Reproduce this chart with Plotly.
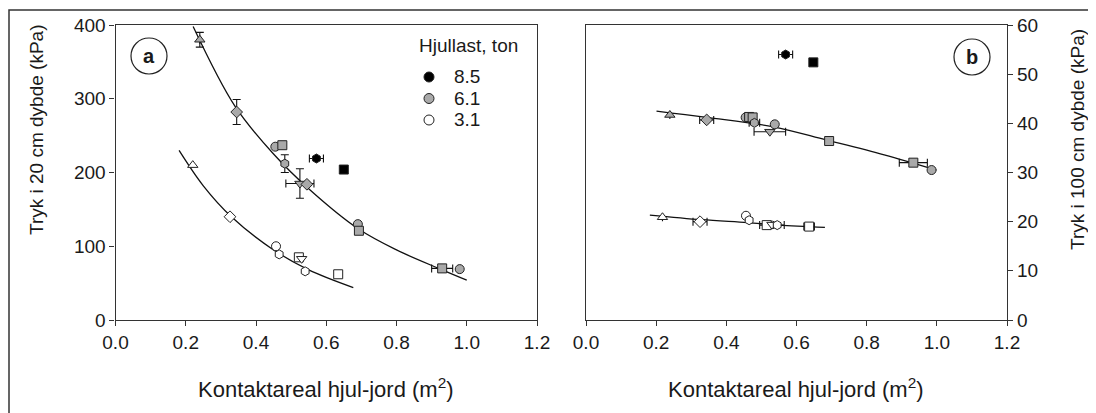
import plotly.graph_objects as go

W, H = 1096, 413
FONT = "Liberation Sans, Arial, sans-serif"

# ---------------- data: panel a (20 cm depth) ----------------
a_gray_x = [0.24, 0.345, 0.455, 0.475, 0.482, 0.525, 0.545, 0.69, 0.693, 0.93, 0.98]
a_gray_y = [380, 282, 235, 237, 212, 185, 184, 130, 121, 70, 69]
a_gray_sym = ["triangle-up", "diamond", "circle", "square", "hexagon", "triangle-down",
              "diamond", "circle", "square", "square", "circle"]
a_gray_ey = [10, 17, 0, 0, 12, 20, 0, 0, 0, 0, 0]
a_gray_ex = [0, 0, 0, 0, 0, 0.04, 0, 0, 0, 0.03, 0]

a_black_x = [0.572, 0.65]
a_black_y = [219, 204]
a_black_sym = ["hexagon", "square"]
a_black_ex = [0.02, 0]

a_white_x = [0.22, 0.326, 0.457, 0.466, 0.522, 0.53, 0.54, 0.634]
a_white_y = [210, 140, 100, 89, 85, 83, 66, 62]
a_white_sym = ["triangle-up", "diamond", "circle", "hexagon", "square", "triangle-down",
               "hexagon", "square"]

a_fit_gray_x = [0.221, 0.34, 0.45, 0.55, 0.69, 0.8, 0.93, 1.0]
a_fit_gray_y = [398, 290, 225, 178, 124, 95, 68, 54]
a_fit_white_x = [0.181, 0.25, 0.33, 0.45, 0.55, 0.677]
a_fit_white_y = [230, 182, 140, 95, 68, 44]

# ---------------- data: panel b (100 cm depth) ----------------
b_gray_x = [0.239, 0.344, 0.455, 0.465, 0.475, 0.48, 0.538, 0.524, 0.693, 0.933, 0.985]
b_gray_y = [41.7, 40.7, 41.2, 41.3, 41.2, 40.1, 39.8, 38.3, 36.4, 32.0, 30.5]
b_gray_sym = ["triangle-up", "diamond", "circle", "square", "square", "hexagon", "circle",
              "triangle-down", "square", "square", "circle"]
b_gray_ex = [0, 0.02, 0, 0, 0, 0.015, 0, 0.045, 0.01, 0.04, 0]

b_black_x = [0.569, 0.648]
b_black_y = [54.0, 52.4]
b_black_sym = ["hexagon", "square"]
b_black_ex = [0.02, 0]

b_white_x = [0.218, 0.325, 0.456, 0.465, 0.515, 0.53, 0.545, 0.636]
b_white_y = [20.9, 20.0, 21.2, 20.3, 19.3, 19.4, 19.3, 19.0]
b_white_sym = ["triangle-up", "diamond", "circle", "hexagon", "square", "triangle-down",
               "hexagon", "square"]
b_white_ex = [0, 0.02, 0, 0, 0.02, 0, 0.02, 0.015]

b_fit_gray_x = [0.201, 0.344, 0.534, 0.686, 0.85, 0.999]
b_fit_gray_y = [42.5, 41.2, 39.3, 36.6, 33.6, 30.5]
b_fit_white_x = [0.182, 0.33, 0.46, 0.55, 0.681]
b_fit_white_y = [21.35, 20.4, 19.8, 19.3, 18.85]

legend_title = "Hjullast, ton"
legend_labels = ["8.5", "6.1", "3.1"]
legend_colors = ["#000000", "#a9a9a9", "#ffffff"]

x_ticks = [0.0, 0.2, 0.4, 0.6, 0.8, 1.0, 1.2]
x_ticktext = ["0.0", "0.2", "0.4", "0.6", "0.8", "1.0", "1.2"]
a_y_ticks = [0, 100, 200, 300, 400]
b_y_ticks = [0, 10, 20, 30, 40, 50, 60]

# ---------------- helpers ----------------
# the page body has an 8 px margin, so screen positions are offset by 8 px
OFF = 8

def px(x):
    return (x - OFF) / W

def py(y):
    return 1 - (y - OFF) / H

GRAY = "#a9a9a9"
EDGE = "#222222"
TXT = "#1a1a1a"

fig = go.Figure()

def add_fit(xs, ys, xa, ya):
    fig.add_trace(go.Scatter(x=xs, y=ys, mode="lines", line=dict(color="#111111", width=1.3, shape="spline"),
                             xaxis=xa, yaxis=ya, showlegend=False, hoverinfo="skip"))

def add_pts(xs, ys, syms, color, xa, ya, ex=None, ey=None):
    kw = {}
    if ex is not None:
        kw["error_x"] = dict(type="data", array=ex, visible=True, color="#111111", thickness=1.1, width=4)
    if ey is not None:
        kw["error_y"] = dict(type="data", array=ey, visible=True, color="#111111", thickness=1.1, width=4)
    fig.add_trace(go.Scatter(x=xs, y=ys, mode="markers",
                             marker=dict(symbol=syms, size=9, color=color,
                                         line=dict(color=EDGE, width=1)),
                             xaxis=xa, yaxis=ya, showlegend=False, **kw))

# panel a
add_fit(a_fit_gray_x, a_fit_gray_y, "x", "y")
add_fit(a_fit_white_x, a_fit_white_y, "x", "y")
add_pts(a_gray_x, a_gray_y, a_gray_sym, GRAY, "x", "y", ex=a_gray_ex, ey=a_gray_ey)
add_pts(a_black_x, a_black_y, a_black_sym, "#000000", "x", "y", ex=a_black_ex)
add_pts(a_white_x, a_white_y, a_white_sym, "#ffffff", "x", "y")

# panel b
add_fit(b_fit_gray_x, b_fit_gray_y, "x2", "y2")
add_fit(b_fit_white_x, b_fit_white_y, "x2", "y2")
add_pts(b_gray_x, b_gray_y, b_gray_sym, GRAY, "x2", "y2", ex=b_gray_ex)
add_pts(b_black_x, b_black_y, b_black_sym, "#000000", "x2", "y2", ex=b_black_ex)
add_pts(b_white_x, b_white_y, b_white_sym, "#ffffff", "x2", "y2", ex=b_white_ex)

yd = [py(320), py(25)]
axis_common = dict(showline=True, linecolor="#333333", linewidth=1.2, mirror=True, ticks="outside",
                   ticklen=5, tickcolor="#333333", showgrid=False, zeroline=False, automargin=False,
                   tickfont=dict(family=FONT, size=19, color=TXT))

fig.update_layout(
    width=W, height=H, margin=dict(l=0, r=0, t=0, b=0, pad=0), autosize=False,
    paper_bgcolor="white", plot_bgcolor="white",
    font=dict(family=FONT, color=TXT),
    xaxis=dict(domain=[px(115.5), px(537)], range=[0, 1.2], tickvals=x_ticks, ticktext=x_ticktext,
               anchor="y", **axis_common),
    yaxis=dict(domain=yd, range=[0, 400], tickvals=a_y_ticks, anchor="x", **axis_common),
    xaxis2=dict(domain=[px(586), px(1007)], range=[0, 1.2], tickvals=x_ticks, ticktext=x_ticktext,
                anchor="y2", **axis_common),
    yaxis2=dict(domain=yd, range=[0, 60], tickvals=b_y_ticks, anchor="x2", side="right", **axis_common),
    showlegend=False,
)

def ann(text, x, y, size, angle=0, xanchor="center", bold=False):
    fig.add_annotation(xref="paper", yref="paper", x=x, y=y, text=("<b>%s</b>" % text) if bold else text,
                       showarrow=False, xanchor=xanchor, yanchor="middle", textangle=angle,
                       font=dict(family=FONT, size=size, color=TXT))

# axis titles
ann("Tryk i 20 cm dybde (kPa)", px(37), py(130), 19, angle=-90)
ann("Tryk i 100 cm dybde (kPa)", px(1077), py(140), 19, angle=-90)
ann("Kontaktareal hjul-jord (m<sup>2</sup>)", px(326), py(388), 22)
ann("Kontaktareal hjul-jord (m<sup>2</sup>)", px(796), py(388), 22)

# legend (drawn manually)
ann(legend_title, px(468), py(45), 19)
for i, (lab, col) in enumerate(zip(legend_labels, legend_colors)):
    cy = 77 + i * 21.5
    r = 5
    fig.add_shape(type="circle", xref="paper", yref="paper",
                  x0=px(429 - r), x1=px(429 + r), y0=py(cy + r), y1=py(cy - r),
                  fillcolor=col, line=dict(color=EDGE, width=1))
    ann(lab, px(452), py(cy), 19, xanchor="left")

# panel letters
for letter, cx, cy in [("a", 149, 56), ("b", 972, 57)]:
    r = 18
    fig.add_shape(type="circle", xref="paper", yref="paper",
                  x0=px(cx - r), x1=px(cx + r), y0=py(cy + r), y1=py(cy - r),
                  line=dict(color="#222222", width=1.2))
    ann(letter, px(cx), py(cy), 20, bold=True)

# outer frame
fig.add_shape(type="rect", xref="paper", yref="paper", x0=px(9), x1=1.02, y0=-0.02, y1=py(10),
              line=dict(color="#333333", width=1.5), layer="below")

fig.write_html("out.html")
